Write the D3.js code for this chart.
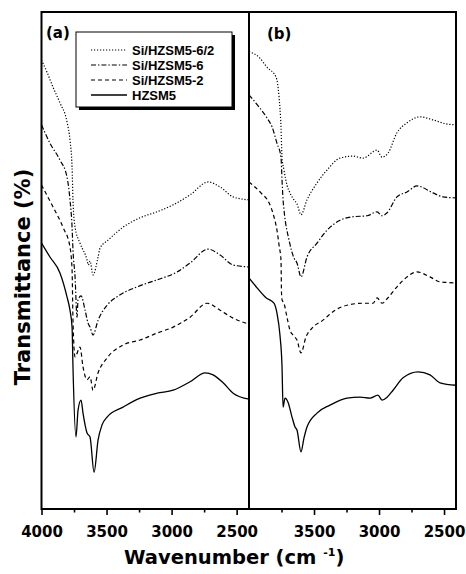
<!DOCTYPE html>
<html><head><meta charset="utf-8">
<script src="https://cdn.jsdelivr.net/npm/d3@7"></script>
<style>body{margin:0;background:#fff}svg{display:block}</style>
</head><body>
<svg id="chart" width="466" height="574"></svg>
<script>
const seriesNames = ["Si/HZSM5-6/2","Si/HZSM5-6","Si/HZSM5-2","HZSM5"];
const panelLabels = ["(a)","(b)"];
const majorTicksA = [4000,3500,3000,2500];
const majorTicksB = [3500,3000,2500];
const minorTicks = [3750,3250,2750];
const xDomainA = [4000,2405];
const xDomainB = [4000,2408];

// panel (a) spectra [wavenumber, transmittance a.u.]
const a_Si62 = [[4000,90.3],[3958,87.9],[3912,84.9],[3858,81.7],[3804,77.9],[3781,74.2],[3765,68.8],[3758,62.2],[3742,56.7],[3704,53.5],[3650,50.1],[3640,49.1],[3627,49.9],[3604,47.1],[3565,50.7],[3550,52.5],[3488,54.1],[3373,56.7],[3242,58.6],[3112,59.8],[2988,61.2],[2858,63.2],[2719,65.8],[2627,64.8],[2527,62.8],[2405,62.2]];
const a_Si6 = [[4000,77.3],[3935,73.6],[3858,70.2],[3804,66.8],[3781,62.2],[3765,56.7],[3758,52.1],[3742,46.7],[3727,38.6],[3719,42.1],[3696,42.9],[3665,40.0],[3642,37.4],[3627,36.6],[3604,35.0],[3565,38.0],[3496,41.0],[3419,42.7],[3265,44.7],[3112,46.1],[2958,47.7],[2858,49.5],[2719,52.3],[2627,51.1],[2527,49.1],[2405,48.7]];
const a_Si2 = [[4000,65.2],[3912,60.8],[3835,56.7],[3781,52.7],[3765,48.1],[3758,38.0],[3742,30.6],[3704,32.6],[3681,28.6],[3650,26.0],[3627,26.6],[3604,23.9],[3565,27.4],[3496,30.4],[3373,33.0],[3242,34.0],[3112,35.4],[2988,36.6],[2858,38.6],[2727,41.4],[2627,40.0],[2527,38.4],[2405,37.2]];
const a_H = [[4000,53.5],[3935,50.7],[3858,47.5],[3804,42.7],[3781,40.0],[3765,36.6],[3758,28.6],[3735,14.5],[3719,19.9],[3696,21.9],[3681,19.3],[3650,15.3],[3627,14.5],[3596,7.4],[3565,13.9],[3535,16.9],[3496,18.5],[3373,20.5],[3242,22.3],[3112,23.3],[2988,23.9],[2858,25.6],[2742,27.4],[2681,27.0],[2604,25.4],[2527,23.3],[2405,22.1]];

// panel (b) spectra
const b_Si62 = [[4000,92.0],[3923,90.9],[3862,88.9],[3792,86.9],[3769,82.9],[3754,76.9],[3746,70.8],[3731,68.2],[3708,65.2],[3685,63.6],[3654,62.2],[3631,61.4],[3600,59.2],[3554,62.2],[3477,65.6],[3400,68.2],[3300,70.6],[3200,71.0],[3123,70.6],[3015,72.2],[2977,70.8],[2931,71.6],[2862,75.7],[2785,77.7],[2685,78.9],[2585,78.3],[2485,77.5],[2408,77.3]];
const b_Si6 = [[4000,83.3],[3923,80.9],[3862,78.7],[3823,76.9],[3785,73.6],[3754,70.8],[3746,66.2],[3738,62.2],[3731,60.2],[3692,54.1],[3654,50.5],[3631,49.5],[3600,46.7],[3554,50.7],[3477,53.5],[3400,56.1],[3300,58.1],[3200,58.8],[3092,59.0],[3015,59.8],[2977,59.0],[2938,59.6],[2862,62.8],[2785,63.8],[2708,65.0],[2585,63.6],[2508,62.8],[2408,62.6]];
const b_Si2 = [[4000,65.8],[3908,63.6],[3846,61.6],[3808,58.8],[3785,56.1],[3769,53.1],[3754,50.1],[3750,43.5],[3746,42.1],[3731,41.4],[3708,38.6],[3685,36.0],[3654,34.8],[3631,34.0],[3600,31.4],[3562,34.6],[3515,36.4],[3431,38.0],[3338,40.0],[3246,41.0],[3123,41.4],[3046,41.4],[3015,42.5],[2977,41.4],[2931,42.5],[2862,44.7],[2785,46.7],[2708,47.7],[2608,46.7],[2531,45.7],[2408,45.5]];
const b_H = [[4000,46.5],[3938,44.5],[3869,42.5],[3808,41.4],[3785,39.4],[3762,35.0],[3746,28.6],[3738,20.5],[3723,22.3],[3700,21.5],[3669,18.5],[3646,16.5],[3631,15.9],[3600,11.5],[3577,14.3],[3554,16.5],[3477,19.3],[3377,20.9],[3246,22.3],[3146,22.5],[3069,22.3],[3008,22.9],[2977,21.9],[2938,22.5],[2892,23.9],[2815,26.4],[2700,27.6],[2608,27.0],[2531,25.4],[2408,24.9]];

const dashes = ["1.2,1.8", "5,2,1.4,2", "4,3", null];
const widths = [1.2, 1.2, 1.2, 1.3];

const svg = d3.select("#chart");
const L = 41.5, M = 249, R = 456, T = 12, B = 509;
const y = d3.scaleLinear().domain([0,100]).range([B, T]);
const xa = d3.scaleLinear().domain(xDomainA).range([L, M]);
const xb = d3.scaleLinear().domain(xDomainB).range([M, R]);

const defs = svg.append("defs");
defs.append("clipPath").attr("id","clipA").append("rect").attr("x",L).attr("y",T).attr("width",M-L).attr("height",B-T);
defs.append("clipPath").attr("id","clipB").append("rect").attr("x",M).attr("y",T).attr("width",R-M).attr("height",B-T);

function drawPanel(x, clip, seriesList){
  const line = d3.line().x(d=>x(d[0])).y(d=>y(d[1])).curve(d3.curveMonotoneX);
  const g = svg.append("g").attr("clip-path", `url(#${clip})`);
  seriesList.forEach((s,i)=>{
    g.append("path").attr("d", line(s)).attr("fill","none").attr("stroke","#000")
      .attr("stroke-width", widths[i]).attr("stroke-dasharray", dashes[i]);
  });
}
drawPanel(xa, "clipA", [a_Si62, a_Si6, a_Si2, a_H]);
drawPanel(xb, "clipB", [b_Si62, b_Si6, b_Si2, b_H]);

// axes
const tickFont = "DejaVu Sans, sans-serif";
function axis(x, majors){
  const gMaj = svg.append("g").attr("transform",`translate(0,${B})`)
    .call(d3.axisBottom(x).tickValues(majors).tickSize(6).tickSizeOuter(0).tickFormat(d3.format("d")));
  gMaj.select(".domain").remove();
  gMaj.selectAll(".tick line").attr("stroke","#000").attr("stroke-width",1.6);
  gMaj.selectAll(".tick text").attr("font-family",tickFont).attr("font-weight","bold")
    .attr("font-size","15px").attr("fill","#000").attr("dy",null).attr("y",28);
  const gMin = svg.append("g").attr("transform",`translate(0,${B})`)
    .call(d3.axisBottom(x).tickValues(minorTicks).tickSize(3.5).tickSizeOuter(0).tickFormat(""));
  gMin.select(".domain").remove();
  gMin.selectAll(".tick line").attr("stroke","#000").attr("stroke-width",1.6);
}
axis(xa, majorTicksA);
axis(xb, majorTicksB);

// frame
svg.append("rect").attr("x",L).attr("y",T).attr("width",R-L).attr("height",B-T)
  .attr("fill","none").attr("stroke","#000").attr("stroke-width",2);
svg.append("line").attr("x1",M).attr("x2",M).attr("y1",T).attr("y2",B)
  .attr("stroke","#000").attr("stroke-width",2);

// panel labels
svg.append("text").attr("x",46).attr("y",38).text(panelLabels[0])
  .attr("font-family",tickFont).attr("font-weight","bold").attr("font-size","15px");
svg.append("text").attr("x",267).attr("y",39).text(panelLabels[1])
  .attr("font-family",tickFont).attr("font-weight","bold").attr("font-size","15px");

// legend
const lg = svg.append("g");
lg.append("rect").attr("x",79).attr("y",35).attr("width",156).attr("height",75).attr("fill","#000");
lg.append("rect").attr("x",76).attr("y",32).attr("width",156).attr("height",75).attr("fill","#fff")
  .attr("stroke","#000").attr("stroke-width",1);
seriesNames.forEach((n,i)=>{
  const cy = 50 + i*15;
  lg.append("line").attr("x1",91).attr("x2",127).attr("y1",cy).attr("y2",cy)
    .attr("stroke","#000").attr("stroke-width",widths[i]).attr("stroke-dasharray",dashes[i]);
  lg.append("text").attr("x",132).attr("y",cy+4.6).text(n)
    .attr("font-family","Liberation Sans, Arial, sans-serif").attr("font-weight","bold").attr("font-size","13px");
});

// axis titles
const xt = svg.append("text").attr("x",124).attr("y",564)
  .attr("font-family",tickFont).attr("font-weight","bold").attr("font-size","19.5px");
xt.append("tspan").text("Wavenumber (cm ");
xt.append("tspan").attr("font-size","11px").attr("dy",-8).text("-1");
xt.append("tspan").attr("dy",8).text(")");

svg.append("text").attr("transform","translate(30,277) rotate(-90)").attr("text-anchor","middle")
  .attr("font-family",tickFont).attr("font-weight","bold").attr("font-size","21px")
  .text("Transmittance (%)");
</script>
</body></html>
